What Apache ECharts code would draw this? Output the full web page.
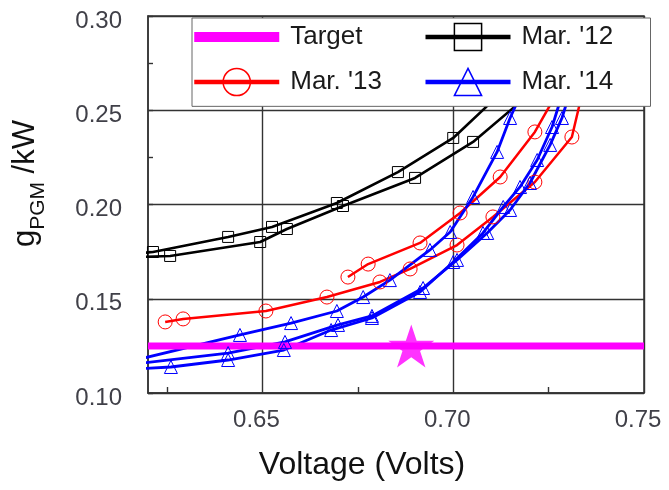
<!DOCTYPE html>
<html><head><meta charset="utf-8">
<script src="https://cdn.jsdelivr.net/npm/echarts@6/dist/echarts.min.js"></script>
<style>html,body{margin:0;padding:0;background:#fff}#c{width:669px;height:490px}</style>
</head><body><div id="c"></div>
<script>
// ---- data ----
const xLabelTicks = [0.65, 0.70, 0.75];
const xMinorTicks = [0.625, 0.675, 0.725];
const yMin = 0.10, yMax = 0.30, yStep = 0.05;
const xMin = 0.62, xMax = 0.75;

const mar12a = [[0.618,0.1742],[0.6213,0.1748],[0.641,0.1828],[0.6525,0.1881],[0.6695,0.2008],[0.6855,0.2172],[0.700,0.2353],[0.714,0.262]];
const mar12b = [[0.618,0.1722],[0.6258,0.1727],[0.6494,0.1801],[0.6564,0.187],[0.6711,0.1992],[0.690,0.2141],[0.7052,0.2332],[0.722,0.262]];

const mar13a = [[0.6245,0.1377],[0.6292,0.1393],[0.6509,0.1435],[0.6669,0.1509],[0.6808,0.1589],[0.6887,0.1658],[0.7010,0.1785],[0.7104,0.1934],[0.7214,0.2119],[0.7311,0.2358],[0.7345,0.265]];
const mar13b = [[0.6724,0.1615],[0.6777,0.1684],[0.6913,0.1796],[0.7018,0.1955],[0.7123,0.2146],[0.7214,0.2385],[0.728,0.262]];

const mar14a = [[0.619,0.1186],[0.6441,0.1308],[0.6575,0.1371],[0.6695,0.1435],[0.6764,0.1509],[0.6834,0.1599],[0.6939,0.1759],[0.6992,0.1854],[0.7052,0.2040],[0.7115,0.2279],[0.7149,0.2459],[0.718,0.2597]];
const mar14b = [[0.619,0.1160],[0.641,0.1212],[0.6559,0.1271],[0.6698,0.1361],[0.6787,0.1409],[0.6921,0.1557],[0.701,0.1706],[0.7089,0.1849],[0.7149,0.1971],[0.7201,0.2114],[0.7254,0.2316],[0.7285,0.2459],[0.7306,0.2597]];
const mar14c = [[0.619,0.1130],[0.626,0.1138],[0.641,0.1175],[0.6556,0.1228],[0.668,0.1334],[0.6787,0.1398],[0.6913,0.1536],[0.7,0.1695],[0.7078,0.1849],[0.7131,0.1987],[0.7175,0.2093],[0.722,0.2236],[0.7259,0.2411],[0.7285,0.2581]];

const targetValue = 0.125;
const targetLine = [[0.62, targetValue],[0.75, targetValue]];
const starPoint = [[0.689, targetValue]];

// ---- chart ----
const FONT = 'Liberation Sans, Arial, sans-serif';
const chart = echarts.init(document.getElementById('c'), null, {renderer:'canvas'});

function curve(name, data, color, symbol, size, width) {
  return {
    type:'line', name, data, symbol, symbolSize:size, showAllSymbol:true,
    lineStyle:{color, width},
    itemStyle:{color:'rgba(255,255,255,0)', borderColor:color, borderWidth:1},
    emphasis:{disabled:true}, animation:false, clip:true
  };
}

const starPath = 'path://M50,0 L61.2,34.5 L97.6,34.5 L68.2,55.9 L79.4,90.5 L50,69.1 L20.6,90.5 L31.8,55.9 L2.4,34.5 L38.8,34.5 Z';
const targetIcon = 'path://M0,0L0.01,0M85,34L84.99,34M0,12H85V22H0Z';

const option = {
  backgroundColor:'#fff',
  animation:false,
  grid:[
    {left:148, right:25, top:16, bottom:97, show:true, borderColor:'#333', borderWidth:1.5, backgroundColor:'#fff'},
    {left:148, right:25, top:16, bottom:97, show:false}
  ],
  xAxis:[
    {type:'value', gridIndex:0, min:xMin, max:xMax,
     axisLine:{show:true, lineStyle:{color:'#333', width:1.5}},
     axisTick:{show:false, customValues:xLabelTicks},
     axisLabel:{customValues:xLabelTicks, formatter:v=>v.toFixed(2), fontSize:24, color:'#404048', fontFamily:FONT, margin:15, padding:[0,12,0,0]},
     splitLine:{show:true, lineStyle:{color:'#333', width:1.4}}},
    {type:'value', gridIndex:1, min:xMin, max:xMax,
     axisLine:{show:false},
     axisTick:{show:true, inside:true, length:6, customValues:xMinorTicks, lineStyle:{color:'#333', width:1.4}},
     axisLabel:{show:false}, splitLine:{show:false}}
  ],
  yAxis:[
    {type:'value', gridIndex:0, min:yMin, max:yMax, interval:yStep,
     axisLine:{show:true, lineStyle:{color:'#333', width:1.5}},
     axisTick:{show:true, inside:true, length:5, lineStyle:{color:'#333', width:1.4}},
     minorTick:{show:true, splitNumber:2, length:5, lineStyle:{color:'#333', width:1.4}},
     axisLabel:{formatter:v=>'{v|' + v.toFixed(2) + '}', margin:26,
       rich:{v:{fontSize:24, color:'#404048', fontFamily:FONT, padding:[10,0,0,0]}}},
     splitLine:{show:true, lineStyle:{color:'#333', width:1.4}}},
    {type:'value', gridIndex:1, min:yMin, max:yMax, show:false}
  ],
  legend:{
    left:192, top:18, width:455, orient:'horizontal',
    padding:[2,7,10,0], itemGap:11, itemWidth:85, itemHeight:34,
    backgroundColor:'#fff', borderColor:'#666', borderWidth:1,
    formatter:name => '{t|' + name + '}',
    textStyle:{fontSize:26, color:'#1a1a1a', fontFamily:FONT,
      rich:{t:{fontSize:26, color:'#1a1a1a', fontFamily:FONT, width:122, padding:[0,0,0,6], backgroundColor:'rgba(255,255,255,0)'}}},
    lineStyle:{width:4.5},
    itemStyle:{borderWidth:1.5},
    selectedMode:false,
    data:[
      {name:'Target', icon:targetIcon, itemStyle:{borderWidth:0}},
      {name:"Mar. '12"},
      {name:"Mar. '13"},
      {name:"Mar. '14"}
    ]
  },
  series:[
    curve("Mar. '12", mar12a, '#000000', 'rect', 11, 2.6),
    curve("Mar. '12", mar12b, '#000000', 'rect', 11, 2.6),
    curve("Mar. '13", mar13a, '#ff0000', 'circle', 14, 2.5),
    curve("Mar. '13", mar13b, '#ff0000', 'circle', 14, 2.5),
    curve("Mar. '14", mar14a, '#0000ff', 'triangle', 13, 2.8),
    curve("Mar. '14", mar14b, '#0000ff', 'triangle', 13, 2.8),
    curve("Mar. '14", mar14c, '#0000ff', 'triangle', 13, 2.8),
    {type:'line', name:'Target', data:targetLine, symbol:'none',
     lineStyle:{color:'#ff00ff', width:7}, itemStyle:{color:'#ff00ff'}, emphasis:{disabled:true}},
    {type:'scatter', name:'star', data:starPoint, symbol:starPath, symbolSize:[46,43],
     itemStyle:{color:'#ff00ff'}, emphasis:{disabled:true}, z:5}
  ],
  graphic:[
    {type:'text', x:362, y:465, style:{text:'Voltage (Volts)', fontSize:32, fontFamily:FONT, fill:'#111', align:'center', verticalAlign:'middle'}},
    {type:'group', x:25, y:184, rotation:Math.PI/2, children:[
      {type:'text', x:-63, y:0, style:{text:'g', fontSize:31, fontFamily:FONT, fill:'#111', align:'left', verticalAlign:'middle'}},
      {type:'text', x:-45.8, y:13, style:{text:'PGM', fontSize:21, fontFamily:FONT, fill:'#111', align:'left', verticalAlign:'middle'}},
      {type:'text', x:2, y:0, style:{text:' /kW', fontSize:31, fontFamily:FONT, fill:'#111', align:'left', verticalAlign:'middle'}}
    ]}
  ]
};
chart.setOption(option);
</script>
</body></html>
